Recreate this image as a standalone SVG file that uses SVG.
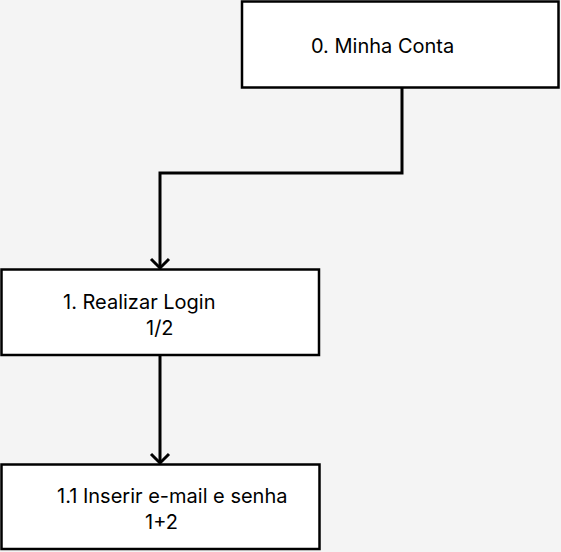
<svg xmlns="http://www.w3.org/2000/svg" width="561" height="552" viewBox="0 0 561 552">
<style>
.box{fill:#ffffff;stroke:#000000;stroke-width:2.5}
.lbl{font-family:Inter,"Liberation Sans",sans-serif;font-size:20px;fill:#000000}
.conn{fill:none;stroke:#000000;stroke-width:3}
</style>
<rect x="0" y="0" width="561" height="552" fill="#f4f4f4"/>
<g id="node0">
<rect class="box" x="242" y="1.5" width="316.5" height="86"/>
<text class="lbl" x="311" y="53">0. Minha Conta</text>
</g>
<g id="node1">
<rect class="box" x="1.5" y="269.5" width="317.5" height="85.5"/>
<text class="lbl" x="63" y="309">1. Realizar Login</text>
<text class="lbl" x="146" y="335">1/2</text>
</g>
<g id="node2">
<rect class="box" x="1.5" y="464.5" width="318" height="84.5"/>
<text class="lbl" x="57" y="503">1.1 Inserir e-mail e senha</text>
<text class="lbl" x="145" y="529">1+2</text>
</g>
<g id="connectors">
<path class="conn" d="M402,88 L402,173 L160,173 L160,268"/>
<path class="conn" d="M151,259 L160,268 L169,259"/>
<path class="conn" d="M160,355 L160,463"/>
<path class="conn" d="M151,454 L160,463 L169,454"/>
</g>
</svg>
